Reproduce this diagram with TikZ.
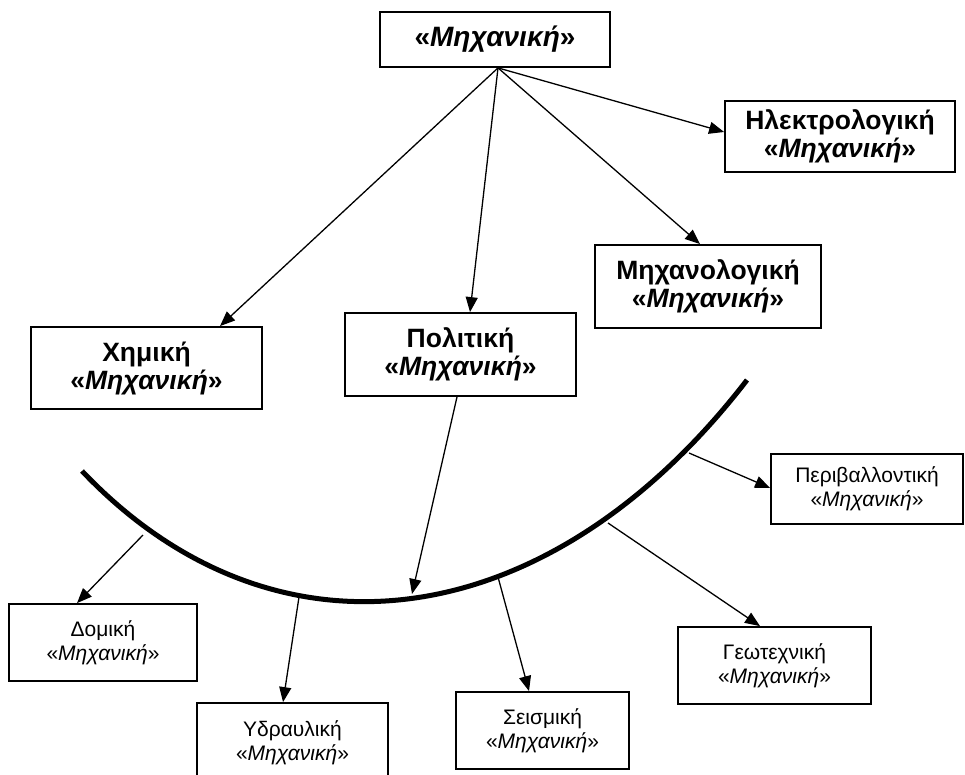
\documentclass[tikz,border=0pt]{standalone}
\usepackage{fontspec}
\setmainfont{Liberation Sans}
\usetikzlibrary{arrows.meta,calc}
\newcommand\MechWord{«\textit{Μηχανική}»}
\begin{document}
\begin{tikzpicture}[x=1pt,y=-1pt,
  boldbox/.style={draw,line width=1.8pt,inner sep=0pt,align=center,
    font=\fontsize{26.5}{28}\selectfont\bfseries},
  plainbox/.style={draw,line width=1.8pt,inner sep=0pt,align=center,
    font=\fontsize{21}{24}\selectfont},
  conn/.style={line width=1.3pt,-{Triangle[length=15pt,width=12pt]}},
  arcline/.style={line width=5pt}]
\useasboundingbox (0,0) rectangle (965,775);
\fill[white] (0,0) rectangle (965,775);
\clip (0,0) rectangle (965,775);

% boxes
\node[boldbox,font=\fontsize{28}{30}\selectfont\bfseries,minimum width=230,minimum height=55] (top) at (495,39.5) {\MechWord};
\node[boldbox,minimum width=230,minimum height=71] (elec) at (840,136.5) {Ηλεκτρολογική\\\MechWord};
\node[boldbox,minimum width=226,minimum height=83] (mech) at (708,286.5) {Μηχανολογική\\\MechWord};
\node[boldbox,minimum width=231,minimum height=83] (pol) at (460.5,354.5) {Πολιτική\\\MechWord};
\node[boldbox,minimum width=231,minimum height=82] (chim) at (146.5,368) {Χημική\\\MechWord};

\node[plainbox,minimum width=192,minimum height=70] (periv) at (867,489) {Περιβαλλοντική\\\MechWord};
\node[plainbox,minimum width=188,minimum height=77] (dom) at (103,642.5) {Δομική\\\MechWord};
\node[plainbox,minimum width=191,minimum height=79] (ydr) at (292.5,742.5) {Υδραυλική\\\MechWord};
\node[plainbox,minimum width=173,minimum height=77] (seis) at (542.5,730.5) {Σεισμική\\\MechWord};
\node[plainbox,minimum width=193,minimum height=77] (geo) at (774.5,665.5) {Γεωτεχνική\\\MechWord};

% arrows from the top box
\coordinate (apex) at ($(top.south)+(3,0)$);
\draw[conn] (apex) -- ($(chim.north)+(73.5,0)$);
\draw[conn] (apex) -- ($(pol.north)+(9.5,0)$);
\draw[conn] (apex) -- ($(mech.north)+(-8,0)$);
\draw[conn] (apex) -- ($(elec.west)+(0,-4.5)$);

% the thick arc
\coordinate (arcL) at (82,471);
\coordinate (arcR) at (747,380);
\draw[arcline] (arcL) .. controls (275,674) and (548,638) .. (arcR);

% points on the arc
\coordinate (pDom) at (143,535);
\coordinate (pPol) at (412,594);
\coordinate (pYdr) at (299,597);
\coordinate (pSeis) at (498,577);
\coordinate (pGeo) at (608,523);
\coordinate (pPer) at (689,453);

\draw[conn] ($(pol.south)+(-3.5,0)$) -- (pPol);
\draw[conn] (pDom) -- ($(dom.north)+(-26,0)$);
\draw[conn] (pYdr) -- ($(ydr.north)+(-9.5,0)$);
\draw[conn] (pSeis) -- ($(seis.north)+(-13.5,0)$);
\draw[conn] (pGeo) -- ($(geo.north)+(-14.5,0)$);
\draw[conn] (pPer) -- ($(periv.west)+(0,-1)$);
\end{tikzpicture}
\end{document}
